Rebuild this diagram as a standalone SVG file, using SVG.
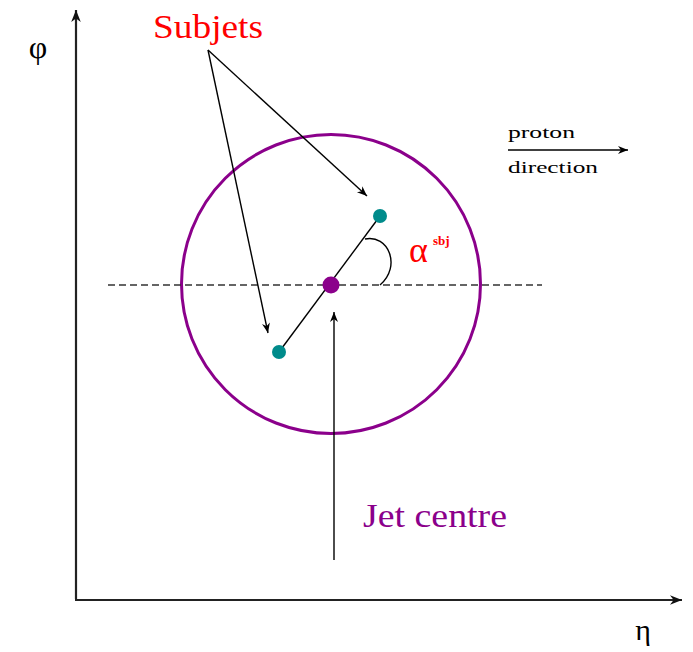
<svg xmlns="http://www.w3.org/2000/svg" width="693" height="652" viewBox="0 0 693 652">
<style>
.ln{stroke:#000;stroke-width:1.4;fill:none}
.ax{stroke:#222;stroke-width:2.2;fill:none}
.t{font-family:"Liberation Serif",serif}
</style>
<defs>
<marker id="ah" viewBox="0 0 10 10" refX="10" refY="5" markerWidth="12" markerHeight="10" markerUnits="userSpaceOnUse" orient="auto">
<path d="M0,1 L10,5 L0,9 L3,5 Z" fill="#000"/>
</marker>
<marker id="ahb" viewBox="0 0 10 10" refX="10" refY="5" markerWidth="16" markerHeight="12" markerUnits="userSpaceOnUse" orient="auto">
<path d="M0,1 L10,5 L0,9 L3,5 Z" fill="#111"/>
</marker>
</defs>
<rect width="693" height="652" fill="#fff"/>
<g id="axes">
<line class="ax" x1="76" y1="599" x2="76" y2="10" marker-end="url(#ahb)"/>
<line class="ax" x1="75" y1="600" x2="682" y2="600" marker-end="url(#ahb)"/>
<text class="t" x="38" y="58" font-size="32" text-anchor="middle">φ</text>
<text class="t" x="643" y="640" font-size="30" text-anchor="middle">η</text>
</g>
<g id="jet-circle">
<circle cx="331" cy="284" r="149.5" fill="none" stroke="#8b008b" stroke-width="3"/>
</g>
<g id="connectors">
<line x1="108" y1="285" x2="542" y2="285" stroke="#333" stroke-width="1.6" stroke-dasharray="7,4"/>
<line class="ln" x1="279" y1="352" x2="380" y2="216"/>
<path class="ln" d="M365,239 C388,234 402,266 380,285"/>
<line class="ln" x1="208" y1="50" x2="268" y2="333" marker-end="url(#ah)"/>
<line class="ln" x1="208" y1="50" x2="367" y2="196" marker-end="url(#ah)"/>
<line class="ln" x1="334" y1="560" x2="334" y2="312" marker-end="url(#ah)"/>
<line class="ln" x1="508" y1="150" x2="628" y2="150" marker-end="url(#ah)"/>
</g>
<g id="jet-centre">
<circle cx="331" cy="285" r="8.5" fill="#8b008b"/>
<text class="t" x="363" y="527" font-size="33" fill="#8b008b" textLength="144" lengthAdjust="spacingAndGlyphs">Jet centre</text>
</g>
<g id="subjet-1">
<circle cx="380" cy="216" r="7" fill="#008b8b"/>
</g>
<g id="subjet-2">
<circle cx="279" cy="352" r="7" fill="#008b8b"/>
</g>
<g id="subjets-label">
<text class="t" x="153" y="38" font-size="34" fill="#ff0000" textLength="110" lengthAdjust="spacingAndGlyphs">Subjets</text>
</g>
<g id="alpha">
<text class="t" x="409" y="262" font-size="36" fill="#ff0000">α</text>
<text class="t" x="433" y="245" font-size="13" fill="#ff0000" font-weight="bold">sbj</text>
</g>
<g id="proton-direction">
<text class="t" x="508" y="138" font-size="17" textLength="67" lengthAdjust="spacingAndGlyphs">proton</text>
<text class="t" x="508" y="173" font-size="17" textLength="90" lengthAdjust="spacingAndGlyphs">direction</text>
</g>
</svg>
